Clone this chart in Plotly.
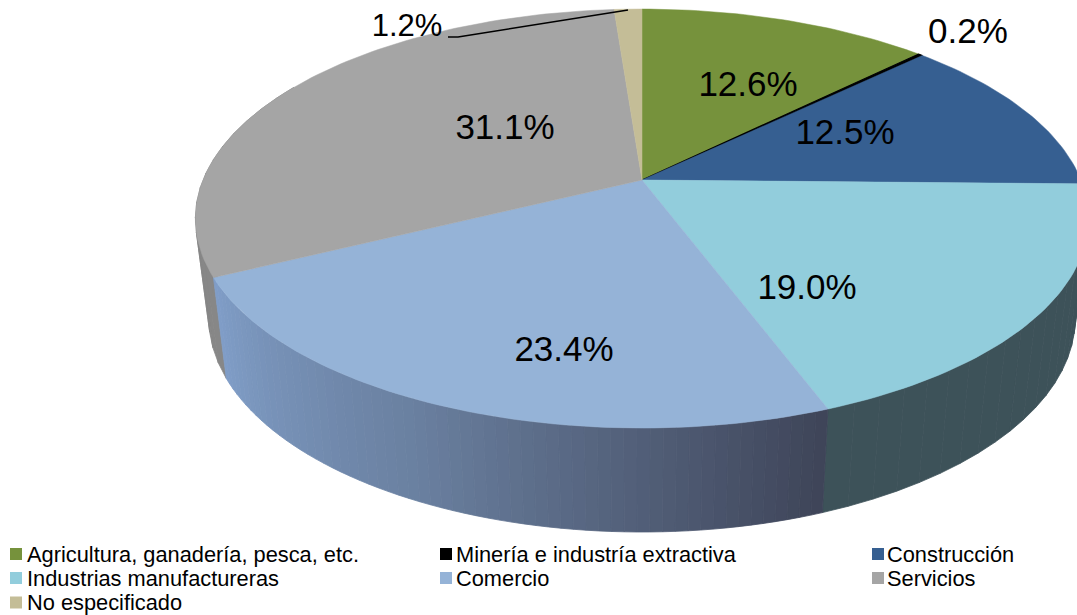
import math
import plotly.graph_objects as go

categories = ["Agricultura, ganadería, pesca, etc.", "Minería e industría extractiva", "Construcción",
              "Industrias manufactureras", "Comercio", "Servicios", "No especificado"]
values = [12.6, 0.2, 12.5, 19.0, 23.4, 31.1, 1.2]
value_labels = ["12.6%", "0.2%", "12.5%", "19.0%", "23.4%", "31.1%", "1.2%"]
colors = ["#76923C", "#000000", "#365F91", "#92CDDC", "#95B3D7", "#A5A5A5", "#C4BD97"]
label_pos = [(748, 87), (968, 34), (845, 135), (807, 290), (564, 352), (505, 130), (407, 28)]
label_size = [35, 35, 35, 35, 35, 35, 31]
legend_col = [16, 446, 878]
legend_row = [554, 578, 602.5]
legend_left = [27, 456, 887]

# wall gradient stops, left to right (fraction of wall, colour)
comercio_wall = [(0.0, (128, 158, 200)), (0.45, (106, 128, 160)), (1.0, (62, 68, 88))]
servicios_wall = (135, 135, 135)
industrias_wall = (61, 82, 89)

CX, CY, A, B, P = 642, 180, 202.4, 439, 0.184
DEPTH, SX, SY = 99, 0.97, 1.02


def top(deg):
    t = math.radians(deg)
    u, v = math.sin(t), math.cos(t)
    w = 1 + P * v
    return CX + B * u / w, CY - A * v / w


def bottom(deg):
    x, y = top(deg)
    return CX + (x - CX) * SX, CY + DEPTH + (y - CY) * SY


def mix(stops, f):
    for (f0, c0), (f1, c1) in zip(stops, stops[1:]):
        if f <= f1:
            k = (f - f0) / (f1 - f0)
            return tuple(round(a + (b - a) * k) for a, b in zip(c0, c1))
    return stops[-1][1]


def poly(xs, ys, color, width=0.8):
    return go.Scatter(x=xs, y=ys, mode="lines", fill="toself", fillcolor=color,
                      line=dict(color=color, width=width), hoverinfo="skip", showlegend=False)


def rgb(c):
    return "rgb(%d,%d,%d)" % tuple(c)


def wall(a0, a1, color_fn, n):
    out = []
    for i in range(n):
        d0 = a0 + (a1 - a0) * i / n
        d1 = a0 + (a1 - a0) * (i + 1) / n
        p = [top(d0), top(d1), bottom(d1), bottom(d0)]
        out.append(poly([q[0] for q in p] + [p[0][0]], [q[1] for q in p] + [p[0][1]],
                        rgb(color_fn((i + 0.5) / n))))
    return out


edges = [0]
for v in values:
    edges.append(edges[-1] + v * 3.6)
edges[-1] = 360

fig = go.Figure()

# side walls
for tr in wall(edges[5], 300, lambda f: servicios_wall, 14):
    fig.add_trace(tr)
for tr in wall(edges[4], 95, lambda f: industrias_wall, 20):
    fig.add_trace(tr)
for tr in wall(edges[5], edges[4], lambda f: mix(comercio_wall, f), 60):
    fig.add_trace(tr)

# top face
for i, (v, c) in enumerate(zip(values, colors)):
    n = max(2, int(v * 3))
    pts = [top(edges[i] + (edges[i + 1] - edges[i]) * k / n) for k in range(n + 1)]
    xs = [CX] + [p[0] for p in pts] + [CX]
    ys = [CY] + [p[1] for p in pts] + [CY]
    fig.add_trace(poly(xs, ys, c, width=1.2 if c == "#000000" else 0.5))

# leader line of the 1.2% label
fig.add_trace(go.Scatter(x=[448, 458, 628], y=[37, 37, 10], mode="lines",
                         line=dict(color="#000000", width=1.5), hoverinfo="skip", showlegend=False))

# value labels
fig.add_trace(go.Scatter(x=[p[0] for p in label_pos], y=[p[1] for p in label_pos], mode="text",
                         text=value_labels, textposition="middle center",
                         textfont=dict(family="Liberation Sans", size=label_size, color="#000000"),
                         hoverinfo="skip", showlegend=False))

# legend entries
for i, (name, c) in enumerate(zip(categories, colors)):
    col, row = i % 3, i // 3
    fig.add_trace(go.Scatter(x=[legend_col[col]], y=[legend_row[row]], mode="markers",
                             marker=dict(symbol="square", size=12, color=c), hoverinfo="skip", showlegend=False))
    fig.add_annotation(x=legend_left[col], y=legend_row[row], text=name, showarrow=False, xanchor="left",
                       yanchor="middle", xshift=-2, font=dict(family="Liberation Sans", size=21.8, color="#000000"))

fig.update_layout(width=1077, height=615, margin=dict(l=0, r=0, t=0, b=0), showlegend=False,
                  paper_bgcolor="white", plot_bgcolor="white",
                  xaxis=dict(range=[0, 1077], visible=False, fixedrange=True),
                  yaxis=dict(range=[615, 0], visible=False, fixedrange=True))
fig.write_html("out.html", config={"displayModeBar": False}, post_script="document.body.style.margin='0';")
